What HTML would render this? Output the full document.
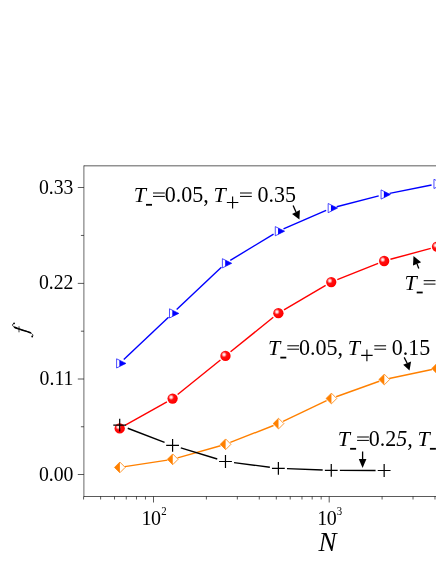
<!DOCTYPE html>
<html><head><meta charset="utf-8"><title>chart</title>
<style>html,body{margin:0;padding:0;background:#fff;}svg{display:block;will-change:transform;}</style></head>
<body>
<svg width="436" height="564" viewBox="0 0 436 564">
<defs>
<radialGradient id="sph" cx="0.36" cy="0.37" r="0.6" fx="0.36" fy="0.37">
<stop offset="0" stop-color="#ffffff"/>
<stop offset="0.15" stop-color="#ffd8d8"/>
<stop offset="0.45" stop-color="#ff1010"/>
<stop offset="1" stop-color="#ff0000"/>
</radialGradient>
</defs>
<rect width="436" height="564" fill="#fff"/>
<g stroke="#000" stroke-width="0.65" fill="none">
<line x1="83.9" y1="165.53" x2="83.9" y2="496.8" stroke-width="0.6"/>
<line x1="83.9" y1="165.83" x2="440" y2="165.83" stroke-width="0.65"/>
<line x1="83.9" y1="496.5" x2="440" y2="496.5"/>
<line x1="77.80" y1="474.50" x2="83.9" y2="474.50"/>
<line x1="77.80" y1="379.00" x2="83.9" y2="379.00"/>
<line x1="77.80" y1="283.40" x2="83.9" y2="283.40"/>
<line x1="77.80" y1="187.50" x2="83.9" y2="187.50"/>
<line x1="80.90" y1="426.75" x2="83.9" y2="426.75"/>
<line x1="80.90" y1="331.20" x2="83.9" y2="331.20"/>
<line x1="80.90" y1="235.45" x2="83.9" y2="235.45"/>
<line x1="153.50" y1="496.5" x2="153.50" y2="502.5"/>
<line x1="329.20" y1="496.5" x2="329.20" y2="502.5"/>
<line x1="83.58" y1="496.5" x2="83.58" y2="499.5"/>
<line x1="100.61" y1="496.5" x2="100.61" y2="499.5"/>
<line x1="114.52" y1="496.5" x2="114.52" y2="499.5"/>
<line x1="126.28" y1="496.5" x2="126.28" y2="499.5"/>
<line x1="136.47" y1="496.5" x2="136.47" y2="499.5"/>
<line x1="145.46" y1="496.5" x2="145.46" y2="499.5"/>
<line x1="206.39" y1="496.5" x2="206.39" y2="499.5"/>
<line x1="237.33" y1="496.5" x2="237.33" y2="499.5"/>
<line x1="259.28" y1="496.5" x2="259.28" y2="499.5"/>
<line x1="276.31" y1="496.5" x2="276.31" y2="499.5"/>
<line x1="290.22" y1="496.5" x2="290.22" y2="499.5"/>
<line x1="301.98" y1="496.5" x2="301.98" y2="499.5"/>
<line x1="312.17" y1="496.5" x2="312.17" y2="499.5"/>
<line x1="321.16" y1="496.5" x2="321.16" y2="499.5"/>
<line x1="382.09" y1="496.5" x2="382.09" y2="499.5"/>
<line x1="413.03" y1="496.5" x2="413.03" y2="499.5"/>
<line x1="434.98" y1="496.5" x2="434.98" y2="499.5"/>
</g>
<line x1="123.77" y1="359.55" x2="168.52" y2="317.25" stroke="#0000ff" stroke-width="1.4"/>
<line x1="176.65" y1="309.55" x2="221.41" y2="267.15" stroke="#0000ff" stroke-width="1.4"/>
<line x1="230.27" y1="260.39" x2="273.58" y2="234.11" stroke="#0000ff" stroke-width="1.4"/>
<line x1="283.50" y1="228.96" x2="326.13" y2="210.34" stroke="#0000ff" stroke-width="1.4"/>
<line x1="336.68" y1="206.71" x2="378.73" y2="195.89" stroke="#0000ff" stroke-width="1.4"/>
<line x1="389.64" y1="193.40" x2="431.55" y2="185.00" stroke="#0000ff" stroke-width="1.4"/>
<line x1="125.36" y1="425.21" x2="166.92" y2="401.79" stroke="#ff0000" stroke-width="1.4"/>
<line x1="177.64" y1="394.52" x2="220.42" y2="359.98" stroke="#ff0000" stroke-width="1.4"/>
<line x1="230.54" y1="351.82" x2="273.31" y2="317.28" stroke="#ff0000" stroke-width="1.4"/>
<line x1="283.97" y1="309.91" x2="325.66" y2="285.39" stroke="#ff0000" stroke-width="1.4"/>
<line x1="337.30" y1="279.69" x2="378.11" y2="263.41" stroke="#ff0000" stroke-width="1.4"/>
<line x1="390.43" y1="259.30" x2="430.77" y2="248.40" stroke="#ff0000" stroke-width="1.4"/>
<line x1="124.84" y1="466.61" x2="167.45" y2="460.09" stroke="#ff8000" stroke-width="1.4"/>
<line x1="177.59" y1="457.88" x2="220.48" y2="445.72" stroke="#ff8000" stroke-width="1.4"/>
<line x1="230.32" y1="442.40" x2="273.53" y2="425.50" stroke="#ff8000" stroke-width="1.4"/>
<line x1="283.07" y1="421.37" x2="326.56" y2="400.73" stroke="#ff8000" stroke-width="1.4"/>
<line x1="336.15" y1="396.74" x2="379.26" y2="381.26" stroke="#ff8000" stroke-width="1.4"/>
<line x1="389.24" y1="378.44" x2="431.95" y2="369.56" stroke="#ff8000" stroke-width="1.4"/>
<line x1="127.73" y1="428.27" x2="164.55" y2="442.33" stroke="#000" stroke-width="1.4"/>
<line x1="180.81" y1="447.90" x2="217.25" y2="459.00" stroke="#000" stroke-width="1.4"/>
<line x1="234.01" y1="462.60" x2="269.84" y2="467.20" stroke="#000" stroke-width="1.4"/>
<line x1="286.96" y1="468.62" x2="322.67" y2="469.98" stroke="#000" stroke-width="1.4"/>
<line x1="339.86" y1="470.33" x2="375.55" y2="470.47" stroke="#000" stroke-width="1.4"/>
<polygon points="116.60,358.80 125.90,363.40 116.60,368.00" fill="#fff" stroke="#0000ff" stroke-width="0.7"/>
<polygon points="119.40,360.18 125.90,363.40 119.40,366.62" fill="#0000ff"/>
<polygon points="169.49,308.80 178.79,313.40 169.49,318.00" fill="#fff" stroke="#0000ff" stroke-width="0.7"/>
<polygon points="172.29,310.18 178.79,313.40 172.29,316.62" fill="#0000ff"/>
<polygon points="222.38,258.70 231.68,263.30 222.38,267.90" fill="#fff" stroke="#0000ff" stroke-width="0.7"/>
<polygon points="225.18,260.08 231.68,263.30 225.18,266.52" fill="#0000ff"/>
<polygon points="275.27,226.60 284.57,231.20 275.27,235.80" fill="#fff" stroke="#0000ff" stroke-width="0.7"/>
<polygon points="278.07,227.98 284.57,231.20 278.07,234.42" fill="#0000ff"/>
<polygon points="328.16,203.50 337.46,208.10 328.16,212.70" fill="#fff" stroke="#0000ff" stroke-width="0.7"/>
<polygon points="330.96,204.88 337.46,208.10 330.96,211.32" fill="#0000ff"/>
<polygon points="381.05,189.90 390.35,194.50 381.05,199.10" fill="#fff" stroke="#0000ff" stroke-width="0.7"/>
<polygon points="383.85,191.28 390.35,194.50 383.85,197.72" fill="#0000ff"/>
<polygon points="433.94,179.30 443.24,183.90 433.94,188.50" fill="#fff" stroke="#0000ff" stroke-width="0.7"/>
<polygon points="436.74,180.68 443.24,183.90 436.74,187.12" fill="#0000ff"/>
<circle cx="119.70" cy="428.40" r="5.15" fill="url(#sph)"/>
<circle cx="172.59" cy="398.60" r="5.15" fill="url(#sph)"/>
<circle cx="225.48" cy="355.90" r="5.15" fill="url(#sph)"/>
<circle cx="278.37" cy="313.20" r="5.15" fill="url(#sph)"/>
<circle cx="331.26" cy="282.10" r="5.15" fill="url(#sph)"/>
<circle cx="384.15" cy="261.00" r="5.15" fill="url(#sph)"/>
<circle cx="437.04" cy="246.70" r="5.15" fill="url(#sph)"/>
<polygon points="114.50,467.40 119.85,462.05 125.20,467.40 119.85,472.75" fill="#fff" stroke="#ff8000" stroke-width="0.8"/>
<polygon points="114.50,467.40 119.85,462.05 119.85,472.75" fill="#ff8000"/>
<polygon points="167.39,459.30 172.74,453.95 178.09,459.30 172.74,464.65" fill="#fff" stroke="#ff8000" stroke-width="0.8"/>
<polygon points="167.39,459.30 172.74,453.95 172.74,464.65" fill="#ff8000"/>
<polygon points="220.28,444.30 225.63,438.95 230.98,444.30 225.63,449.65" fill="#fff" stroke="#ff8000" stroke-width="0.8"/>
<polygon points="220.28,444.30 225.63,438.95 225.63,449.65" fill="#ff8000"/>
<polygon points="273.17,423.60 278.52,418.25 283.87,423.60 278.52,428.95" fill="#fff" stroke="#ff8000" stroke-width="0.8"/>
<polygon points="273.17,423.60 278.52,418.25 278.52,428.95" fill="#ff8000"/>
<polygon points="326.06,398.50 331.41,393.15 336.76,398.50 331.41,403.85" fill="#fff" stroke="#ff8000" stroke-width="0.8"/>
<polygon points="326.06,398.50 331.41,393.15 331.41,403.85" fill="#ff8000"/>
<polygon points="378.95,379.50 384.30,374.15 389.65,379.50 384.30,384.85" fill="#fff" stroke="#ff8000" stroke-width="0.8"/>
<polygon points="378.95,379.50 384.30,374.15 384.30,384.85" fill="#ff8000"/>
<polygon points="431.84,368.50 437.19,363.15 442.54,368.50 437.19,373.85" fill="#fff" stroke="#ff8000" stroke-width="0.8"/>
<polygon points="431.84,368.50 437.19,363.15 437.19,373.85" fill="#ff8000"/>
<path d="M113.30,425.20H126.10M119.70,418.80V431.60" stroke="#000" stroke-width="1.2" fill="none"/>
<path d="M166.19,445.40H178.99M172.59,439.00V451.80" stroke="#000" stroke-width="1.2" fill="none"/>
<path d="M219.08,461.50H231.88M225.48,455.10V467.90" stroke="#000" stroke-width="1.2" fill="none"/>
<path d="M271.97,468.30H284.77M278.37,461.90V474.70" stroke="#000" stroke-width="1.2" fill="none"/>
<path d="M324.86,470.30H337.66M331.26,463.90V476.70" stroke="#000" stroke-width="1.2" fill="none"/>
<path d="M377.75,470.50H390.55M384.15,464.10V476.90" stroke="#000" stroke-width="1.2" fill="none"/>
<line x1="293.1" y1="205.6" x2="296.00" y2="212.10" stroke="#000" stroke-width="1.3"/><polygon points="299.4,219.6 292.1,214.1 299.9,210.1" fill="#000"/>
<line x1="418.8" y1="268.5" x2="417.05" y2="263.95" stroke="#000" stroke-width="1.3"/><polygon points="413.5,256.1 413.0,265.6 421.1,262.3" fill="#000"/>
<line x1="404.2" y1="357.4" x2="407.15" y2="363.20" stroke="#000" stroke-width="1.3"/><polygon points="409.5,370.6 403.2,364.8 411.1,361.6" fill="#000"/>
<line x1="362.6" y1="451.5" x2="362.60" y2="459.10" stroke="#000" stroke-width="1.3"/><polygon points="362.6,468.0 358.8,459.1 366.4,459.1" fill="#000"/>
<text transform="translate(133.70,202.00) scale(1,1.0)" font-family="Liberation Serif, serif" font-size="22" font-style="italic" fill="#000">T</text>
<line x1="146.00" y1="204.80" x2="152.00" y2="204.80" stroke="#000" stroke-width="1.8"/>
<path d="M153.00,193.00h11.8M153.00,196.40h11.8" stroke="#000" stroke-width="1.0" fill="none"/>
<text transform="translate(164.75,202.00) scale(1,1.07)" font-family="Liberation Serif, serif" font-size="22" fill="#000">0.05,</text>
<text transform="translate(213.50,202.00) scale(1,1.0)" font-family="Liberation Serif, serif" font-size="22" font-style="italic" fill="#000">T</text>
<path d="M226.85,202.50h11.5M232.60,196.60v11.8" stroke="#000" stroke-width="1.15" fill="none"/>
<path d="M240.00,193.00h11.8M240.00,196.40h11.8" stroke="#000" stroke-width="1.0" fill="none"/>
<text transform="translate(257.40,202.00) scale(1,1.07)" font-family="Liberation Serif, serif" font-size="22" fill="#000">0.35</text>
<text transform="translate(268.00,354.80) scale(1,1.0)" font-family="Liberation Serif, serif" font-size="22" font-style="italic" fill="#000">T</text>
<line x1="280.30" y1="357.60" x2="286.30" y2="357.60" stroke="#000" stroke-width="1.8"/>
<path d="M287.30,345.80h11.8M287.30,349.20h11.8" stroke="#000" stroke-width="1.0" fill="none"/>
<text transform="translate(299.05,354.80) scale(1,1.07)" font-family="Liberation Serif, serif" font-size="22" fill="#000">0.05,</text>
<text transform="translate(347.80,354.80) scale(1,1.0)" font-family="Liberation Serif, serif" font-size="22" font-style="italic" fill="#000">T</text>
<path d="M361.15,355.30h11.5M366.90,349.40v11.8" stroke="#000" stroke-width="1.15" fill="none"/>
<path d="M374.30,345.80h11.8M374.30,349.20h11.8" stroke="#000" stroke-width="1.0" fill="none"/>
<text transform="translate(391.70,354.80) scale(1,1.07)" font-family="Liberation Serif, serif" font-size="22" fill="#000">0.15</text>
<text transform="translate(404.40,289.70) scale(1,1.0)" font-family="Liberation Serif, serif" font-size="22" font-style="italic" fill="#000">T</text>
<line x1="416.70" y1="292.50" x2="422.70" y2="292.50" stroke="#000" stroke-width="1.8"/>
<path d="M423.70,280.70h11.8M423.70,284.10h11.8" stroke="#000" stroke-width="1.0" fill="none"/>
<text transform="translate(435.45,289.70) scale(1,1.07)" font-family="Liberation Serif, serif" font-size="22" fill="#000">0.05,</text>
<text transform="translate(484.20,289.70) scale(1,1.0)" font-family="Liberation Serif, serif" font-size="22" font-style="italic" fill="#000">T</text>
<path d="M497.55,290.20h11.5M503.30,284.30v11.8" stroke="#000" stroke-width="1.15" fill="none"/>
<path d="M510.70,280.70h11.8M510.70,284.10h11.8" stroke="#000" stroke-width="1.0" fill="none"/>
<text transform="translate(528.10,289.70) scale(1,1.07)" font-family="Liberation Serif, serif" font-size="22" fill="#000">0.25</text>
<text transform="translate(337.80,446.00) scale(1,1.0)" font-family="Liberation Serif, serif" font-size="22" font-style="italic" fill="#000">T</text>
<line x1="350.10" y1="448.80" x2="356.10" y2="448.80" stroke="#000" stroke-width="1.8"/>
<path d="M357.10,437.00h11.8M357.10,440.40h11.8" stroke="#000" stroke-width="1.0" fill="none"/>
<text transform="translate(368.85,446.00) scale(1,1.07)" font-family="Liberation Serif, serif" font-size="22" fill="#000">0.2<tspan font-style="italic">5,</tspan></text>
<text transform="translate(417.60,446.00) scale(1,1.0)" font-family="Liberation Serif, serif" font-size="22" font-style="italic" fill="#000">T</text>
<line x1="429.90" y1="448.80" x2="435.90" y2="448.80" stroke="#000" stroke-width="1.8"/>
<path d="M444.10,437.00h11.8M444.10,440.40h11.8" stroke="#000" stroke-width="1.0" fill="none"/>
<text transform="translate(461.50,446.00) scale(1,1.07)" font-family="Liberation Serif, serif" font-size="22" fill="#000">0.25</text>
<text transform="translate(73.4,480.60) scale(0.972,1)" text-anchor="end" font-family="Liberation Serif, serif" font-size="20.3" fill="#000">0.00</text>
<text transform="translate(73.4,385.00) scale(0.972,1)" text-anchor="end" font-family="Liberation Serif, serif" font-size="20.3" fill="#000">0.11</text>
<text transform="translate(73.4,289.40) scale(0.972,1)" text-anchor="end" font-family="Liberation Serif, serif" font-size="20.3" fill="#000">0.22</text>
<text transform="translate(73.4,193.80) scale(0.972,1)" text-anchor="end" font-family="Liberation Serif, serif" font-size="20.3" fill="#000">0.33</text>
<text x="141.45" y="525.0" font-family="Liberation Serif, serif" font-size="20" letter-spacing="-0.5" fill="#000">10</text>
<text transform="translate(161.15,515.0) scale(0.9,1)" font-family="Liberation Serif, serif" font-size="12" fill="#000">2</text>
<text x="317.15" y="525.0" font-family="Liberation Serif, serif" font-size="20" letter-spacing="-0.5" fill="#000">10</text>
<text transform="translate(336.85,515.0) scale(0.9,1)" font-family="Liberation Serif, serif" font-size="12" fill="#000">3</text>
<text x="327.6" y="550.6" text-anchor="middle" font-family="Liberation Serif, serif" font-size="27" font-style="italic" fill="#000">N</text>
<g fill="none" stroke="#000" stroke-linecap="round"><path d="M13.6,323.6 C12.2,323.9 12.0,325.6 13.6,326.7 C17.5,329.4 25.5,330.4 30.0,332.5 C32.6,333.7 33.6,335.4 32.6,336.2" stroke-width="0.8"/><path d="M14.6,327.3 C18.5,329.5 25.5,330.5 30.4,332.7" stroke-width="1.6"/><path d="M19.0,326.7 L19.0,331.9" stroke-width="0.9" stroke="#222"/></g><circle cx="14.1" cy="323.3" r="0.9" fill="#000"/><circle cx="32.2" cy="336.5" r="0.9" fill="#000"/>
</svg>
</body></html>
